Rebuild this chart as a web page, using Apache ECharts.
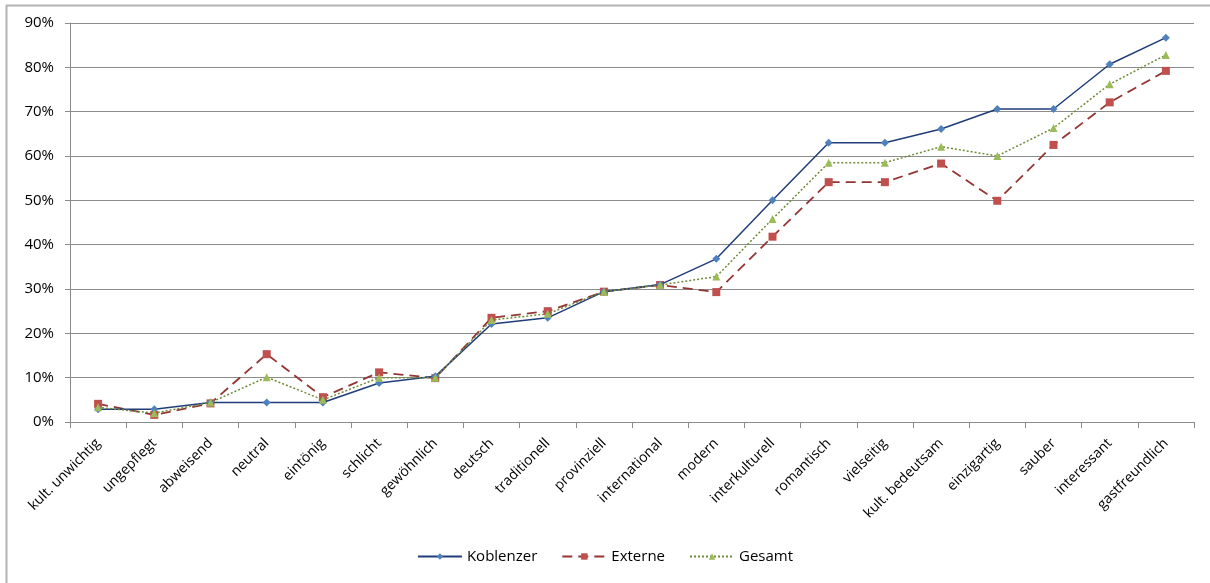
<!DOCTYPE html>
<html>
<head>
<meta charset="utf-8">
<script src="https://cdn.jsdelivr.net/npm/echarts@6/dist/echarts.min.js"></script>
<style>
  html, body { margin: 0; padding: 0; background: #ffffff; }
  #chart { width: 1210px; height: 583px; }
</style>
</head>
<body>
<div id="chart"></div>
<script>
// Eigenschaften (x-Achse)
const categories = [
  'kult. unwichtig', 'ungepflegt', 'abweisend', 'neutral', 'eintönig',
  'schlicht', 'gewöhnlich', 'deutsch', 'traditionell', 'provinziell',
  'international', 'modern', 'interkulturell', 'romantisch', 'vielseitig',
  'kult. bedeutsam', 'einzigartig', 'sauber', 'interessant', 'gastfreundlich'
];

// Anteile in Prozent
const koblenzer = [2.9, 2.9, 4.4, 4.4, 4.4, 8.8, 10.3, 22.1, 23.5, 29.4,
                   31.0, 36.8, 50.0, 63.0, 63.0, 66.1, 70.6, 70.6, 80.7, 86.7];
const externe   = [4.1, 1.6, 4.2, 15.3, 5.6, 11.2, 9.9, 23.5, 25.0, 29.4,
                   30.9, 29.3, 41.8, 54.1, 54.1, 58.3, 49.9, 62.5, 72.1, 79.2];
const gesamt    = [3.3, 2.0, 4.4, 10.1, 5.0, 10.0, 10.0, 23.0, 24.4, 29.4,
                   30.9, 32.8, 45.8, 58.5, 58.5, 62.1, 60.0, 66.3, 76.2, 82.8];

const seriesNames = ['Koblenzer', 'Externe', 'Gesamt'];

const FONT = 'Open Sans';
const chart = echarts.init(document.getElementById('chart'), null, { renderer: 'canvas' });

chart.setOption({
  animation: false,
  backgroundColor: '#ffffff',
  textStyle: { fontFamily: FONT },
  grid: { left: 70, right: 16, top: 23, bottom: 161, containLabel: false },
  legend: {
    bottom: 14,
    left: 'center',
    itemWidth: 44,
    itemHeight: 8,
    itemGap: 24,
    textStyle: { fontFamily: FONT, fontSize: 15, color: '#000' },
    data: seriesNames
  },
  xAxis: {
    type: 'category',
    data: categories,
    boundaryGap: true,
    axisLine: { lineStyle: { color: '#8c8c8c', width: 1 } },
    axisTick: { show: true, alignWithLabel: false, length: 6, lineStyle: { color: '#8c8c8c' } },
    axisLabel: {
      interval: 0,
      rotate: 45,
      margin: 19,
      fontFamily: FONT,
      fontSize: 14,
      color: '#000'
    },
    splitLine: { show: false }
  },
  yAxis: {
    type: 'value',
    min: 0,
    max: 90,
    interval: 10,
    axisLine: { show: true, lineStyle: { color: '#8c8c8c', width: 1 } },
    axisTick: { show: true, length: 5, lineStyle: { color: '#8c8c8c' } },
    axisLabel: {
      formatter: '{value}%',
      margin: 16,
      fontFamily: FONT,
      fontSize: 15,
      color: '#000'
    },
    splitLine: { show: true, lineStyle: { color: '#8c8c8c', width: 1 } }
  },
  series: [
    {
      name: seriesNames[0],
      type: 'line',
      data: koblenzer,
      symbol: 'diamond',
      symbolSize: 8,
      itemStyle: { color: '#4f81bd' },
      lineStyle: { color: '#1f3d7a', width: 1.5, type: 'solid' },
      z: 4
    },
    {
      name: seriesNames[1],
      type: 'line',
      data: externe,
      symbol: 'rect',
      symbolSize: 8,
      itemStyle: { color: '#c0504d' },
      lineStyle: { color: '#943634', width: 1.8, type: [10, 6] },
      z: 3
    },
    {
      name: seriesNames[2],
      type: 'line',
      data: gesamt,
      symbol: 'triangle',
      symbolSize: 8,
      itemStyle: { color: '#9bbb59' },
      lineStyle: { color: '#6f8a36', width: 1.5, type: [2, 2] },
      z: 5
    }
  ],
  graphic: [
    { type: 'line', shape: { x1: 6, y1: 5.5, x2: 1210, y2: 5.5 }, style: { stroke: '#b3b3b3', lineWidth: 2 } },
    { type: 'line', shape: { x1: 6.5, y1: 5, x2: 6.5, y2: 583 }, style: { stroke: '#b3b3b3', lineWidth: 2 } }
  ]
});
</script>
</body>
</html>
